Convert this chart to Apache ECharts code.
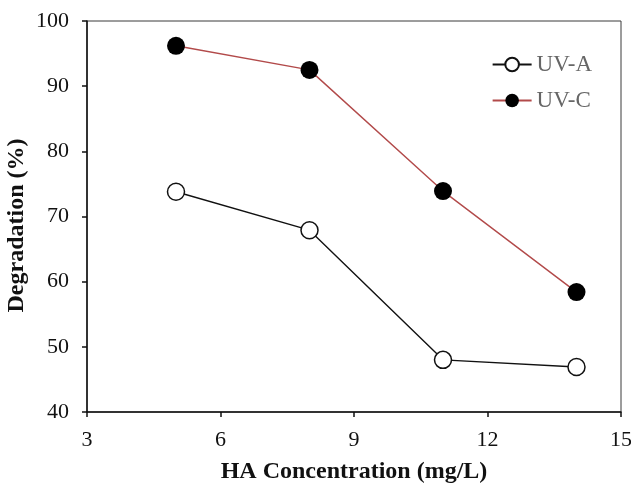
<!DOCTYPE html>
<html>
<head>
<meta charset="utf-8">
<script src="https://cdn.jsdelivr.net/npm/echarts@6/dist/echarts.min.js"></script>
<style>
  html, body { margin: 0; padding: 0; background: #fff; }
  #chart { width: 631px; height: 483px; }
</style>
</head>
<body>
<div id="chart"></div>
<script>
// HA concentration (mg/L) and degradation (%) under two UV sources
const concentrations = [5, 8, 11, 14];
const uvA = [73.8, 67.9, 48.0, 46.9];
const uvC = [96.2, 92.5, 73.9, 58.4];
const xTicks = [3, 6, 9, 12, 15];
const yTicks = [40, 50, 60, 70, 80, 90, 100];

const serif = '"Liberation Serif", "Times New Roman", serif';
const pair = (xs, ys) => xs.map((x, i) => [x, ys[i]]);

const chart = echarts.init(document.getElementById('chart'), null, { renderer: 'canvas' });
chart.setOption({
  backgroundColor: '#ffffff',
  animation: false,
  grid: {
    left: 87, right: 10, top: 21, bottom: 71,
    outerBoundsMode: 'none',
    containLabel: false,
    show: true, borderColor: '#3a3a3a', borderWidth: 1, backgroundColor: 'transparent'
  },
  legend: {
    right: 34, top: 48,
    orient: 'vertical',
    itemWidth: 39, itemHeight: 17, itemGap: 13,
    textStyle: { fontFamily: serif, fontSize: 23, color: '#666' },
    data: ['UV-A', 'UV-C']
  },
  xAxis: {
    type: 'value',
    min: xTicks[0], max: xTicks[xTicks.length - 1], interval: 3,
    name: 'HA Concentration (mg/L)',
    nameLocation: 'middle', nameGap: 48, nameMoveOverlap: false,
    nameTextStyle: { fontFamily: serif, fontSize: 24, fontWeight: 'bold', color: '#111' },
    axisLine: { lineStyle: { color: '#111', width: 1.5 } },
    axisTick: { show: true, inside: false, length: 5, lineStyle: { color: '#111', width: 1.5 } },
    axisLabel: { fontFamily: serif, fontSize: 22, color: '#111', margin: 17 },
    splitLine: { show: false }
  },
  yAxis: {
    type: 'value',
    min: yTicks[0], max: yTicks[yTicks.length - 1], interval: 10,
    name: 'Degradation (%)',
    nameLocation: 'middle', nameGap: 58, nameMoveOverlap: false,
    nameTextStyle: { fontFamily: serif, fontSize: 24, fontWeight: 'bold', color: '#111', padding: [0, 18, 0, 0] },
    axisLine: { lineStyle: { color: '#111', width: 1.5 } },
    axisTick: { show: true, inside: false, length: 5, lineStyle: { color: '#111', width: 1.5 } },
    axisLabel: { fontFamily: serif, fontSize: 22, color: '#111', margin: 18 },
    splitLine: { show: false }
  },
  series: [
    {
      name: 'UV-A',
      type: 'line',
      data: pair(concentrations, uvA),
      symbol: 'circle', symbolSize: 17,
      lineStyle: { color: '#111', width: 1.4 },
      itemStyle: { color: '#ffffff', borderColor: '#111', borderWidth: 1.5 }
    },
    {
      name: 'UV-C',
      type: 'line',
      data: pair(concentrations, uvC),
      symbol: 'circle', symbolSize: 18,
      lineStyle: { color: '#b24a4a', width: 1.4 },
      itemStyle: { color: '#000000', borderColor: '#000000', borderWidth: 0 }
    }
  ]
});
</script>
</body>
</html>
